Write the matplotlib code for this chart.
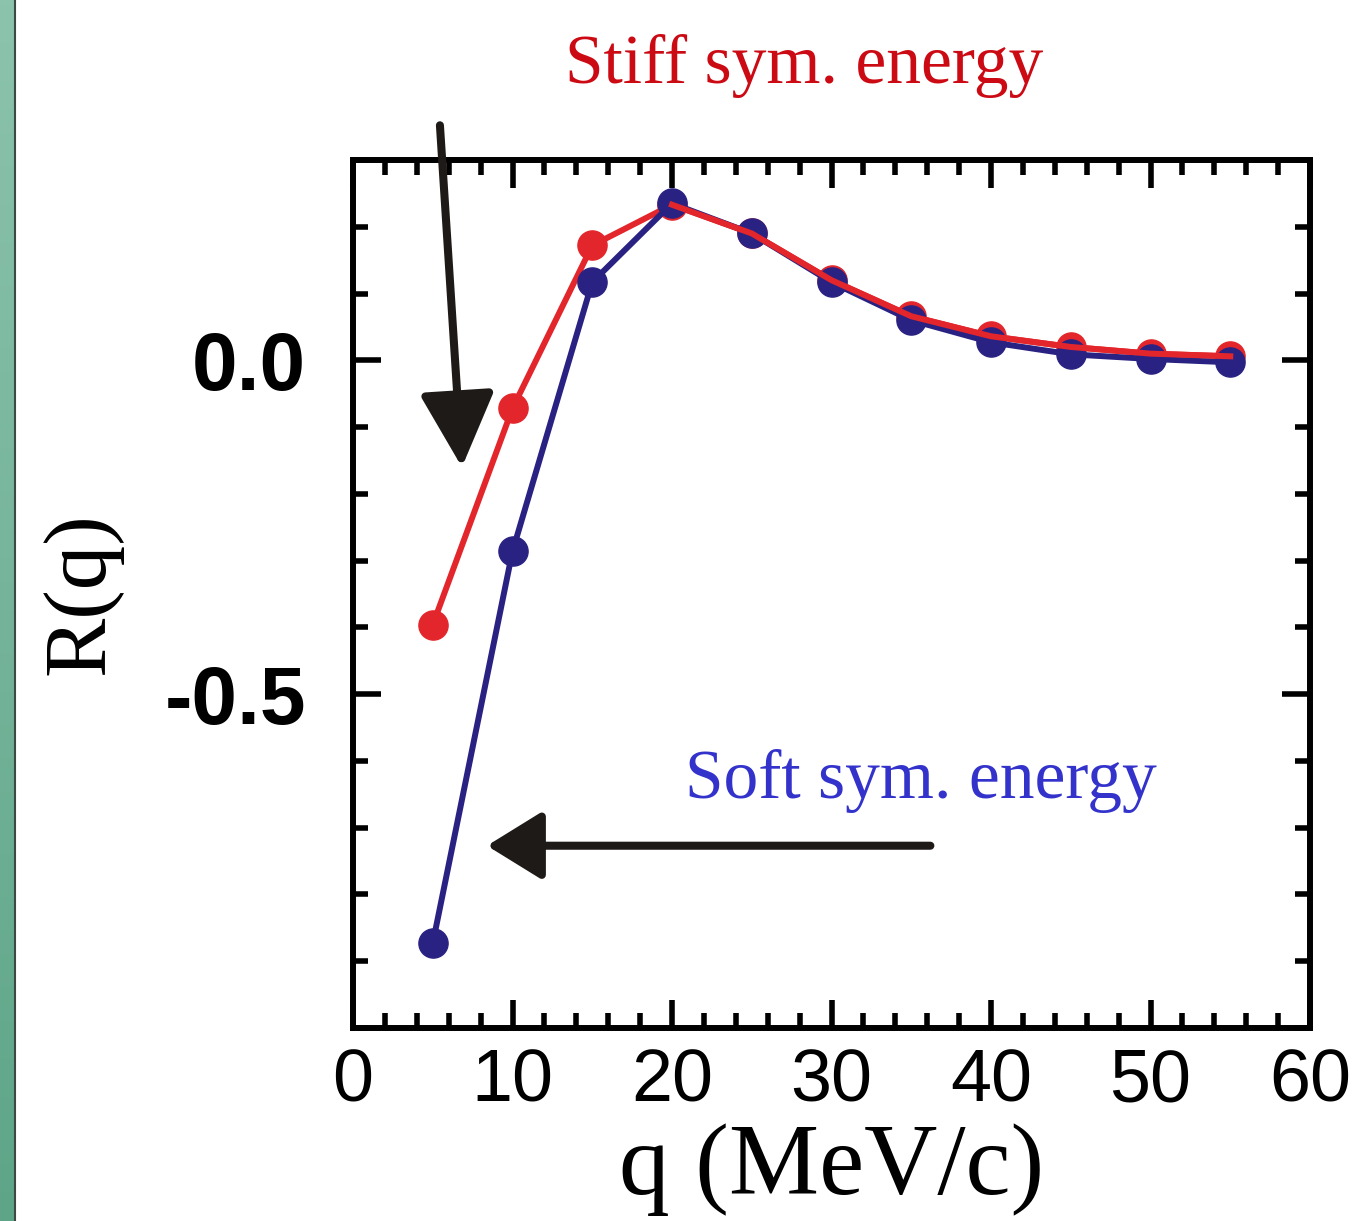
import matplotlib
matplotlib.use("Agg")
import matplotlib.pyplot as plt
from matplotlib.ticker import MultipleLocator
from matplotlib.colors import LinearSegmentedColormap
import numpy as np

# data
q = [5, 10, 15, 20, 25, 30, 35, 40, 45, 50, 55]
r_stiff = [-0.396, -0.072, 0.172, 0.233, 0.19, 0.12, 0.066, 0.036, 0.02, 0.01, 0.006]
r_soft = [-0.873, -0.286, 0.117, 0.235, 0.19, 0.117, 0.06, 0.027, 0.009, 0.002, -0.003]

red = '#e3262b'
blue = '#2a2282'

fig = plt.figure(figsize=(13.63, 12.21), dpi=100)

# green strip on the left edge
strip = fig.add_axes([0, 0, 14 / 1363, 1])
grad = np.linspace(0, 1, 256).reshape(-1, 1)
cm = LinearSegmentedColormap.from_list('g', ['#8cc3ad', '#5ea588'])
strip.imshow(grad, aspect='auto', cmap=cm, extent=[0, 1, 0, 1])
strip.axis('off')
fig.add_artist(plt.Line2D([14.5 / 1363] * 2, [0, 1], color='#3c4a44', lw=1.5))

ax = fig.add_axes([353 / 1363, 1 - 1028 / 1221, 957 / 1363, 868 / 1221])

ax.plot(q, r_stiff, '-o', color=red, lw=4.3, ms=21, mec=red, zorder=3)
ax.plot(q, r_soft, '-o', color=blue, lw=4.3, ms=21, mec=blue, zorder=4)
ax.plot(q[3:], r_stiff[3:], '-', color=red, lw=4.3, zorder=5)

ax.set_xlim(0, 60)
ax.set_ylim(-1.0, 0.3)
ax.xaxis.set_major_locator(MultipleLocator(10))
ax.xaxis.set_minor_locator(MultipleLocator(2))
ax.yaxis.set_major_locator(MultipleLocator(0.5))
ax.yaxis.set_minor_locator(MultipleLocator(0.1))

for s in ax.spines.values():
    s.set_linewidth(4.3)

ax.tick_params(which='both', direction='in', top=True, right=True, width=4.0)
ax.tick_params(which='major', length=20)
ax.tick_params(which='minor', length=11)
ax.tick_params(axis='y', pad=34)
ax.tick_params(axis='x', pad=14)

ax.set_yticks([0.0, -0.5])
ax.set_yticklabels(['0.0', '-0.5'], fontfamily='Liberation Sans', fontweight='bold', fontsize=59)
ax.set_xticks([0, 10, 20, 30, 40, 50, 60])
ax.set_xticklabels(['0', '10', '20', '30', '40', '50', '60'], fontfamily='Liberation Sans', fontsize=53)

ax.set_ylabel('R(q)', fontfamily='Liberation Serif', fontsize=64, labelpad=30)
ax.set_xlabel('q (MeV/c)', fontfamily='Liberation Serif', fontsize=73, labelpad=5)

ax.text(28.3, 0.415, 'Stiff sym. energy', color='#cc0a14', fontfamily='Liberation Serif',
        fontsize=50, ha='center', va='baseline', clip_on=False)
ax.text(35.6, -0.655, 'Soft sym. energy', color='#3333cc', fontfamily='Liberation Serif',
        fontsize=50, ha='center', va='baseline')

# arrows
ax.annotate('', xy=(6.83, -0.16), xytext=(5.45, 0.352), annotation_clip=False,
            arrowprops=dict(arrowstyle='-|>,head_length=2.3,head_width=1.15', mutation_scale=20,
                            lw=5.8, color='#1e1a18', shrinkA=0, shrinkB=0))
ax.annotate('', xy=(8.4, -0.727), xytext=(36.2, -0.727),
            arrowprops=dict(arrowstyle='-|>,head_length=1.7,head_width=1.05', mutation_scale=20,
                            lw=5.8, color='#1e1a18', shrinkA=0, shrinkB=0))

fig.savefig('out.png', dpi=100)
